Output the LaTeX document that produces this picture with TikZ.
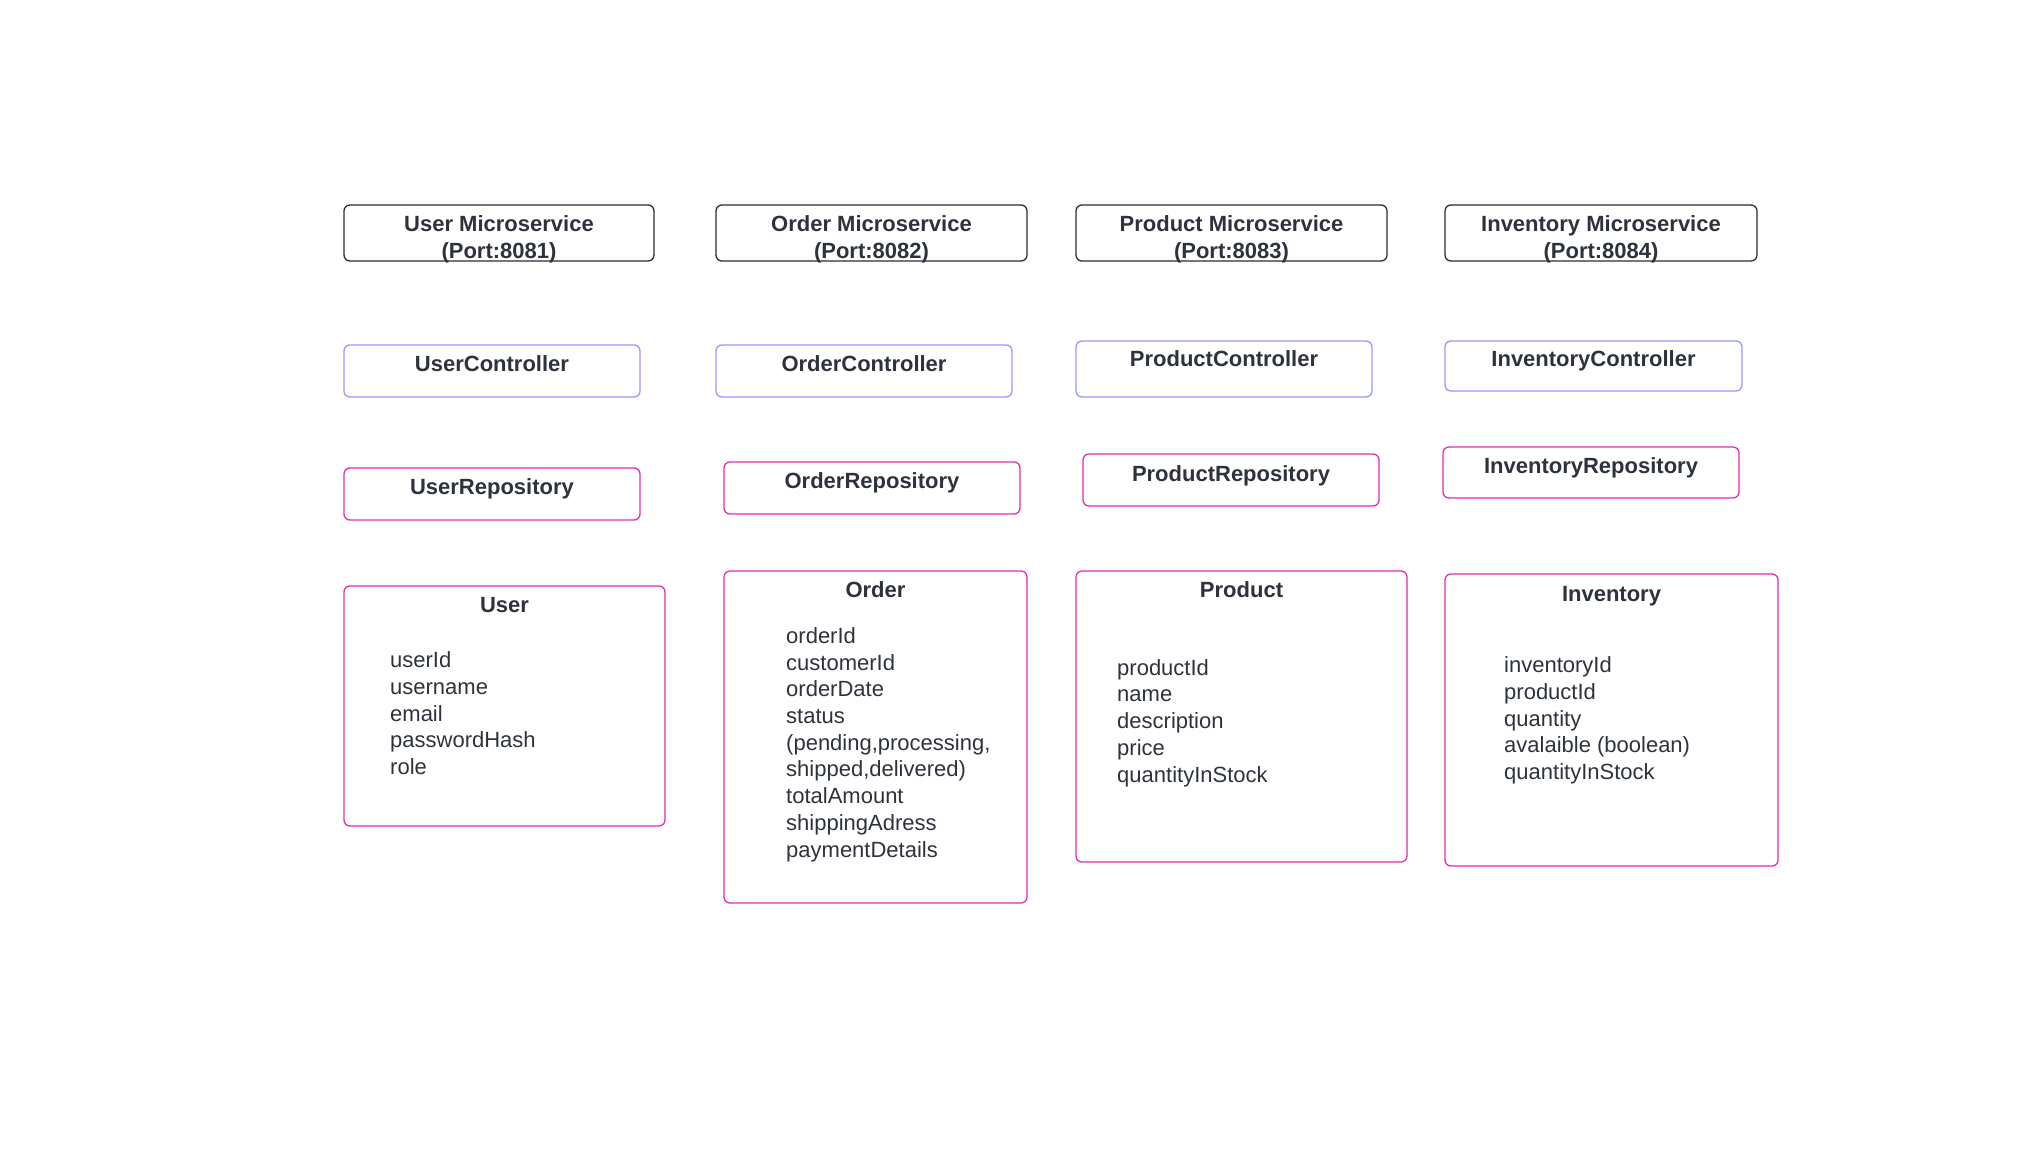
\documentclass[tikz,border=0pt]{standalone}
\usepackage{fontspec}
\setmainfont{Liberation Sans}
\definecolor{txt}{RGB}{45,50,60}
\definecolor{hdrc}{RGB}{45,45,50}
\definecolor{ctrlc}{RGB}{150,150,255}
\definecolor{repoc}{RGB}{228,45,178}
\begin{document}
\begin{tikzpicture}[x=1pt,y=-1pt,
  box/.style={draw, rounded corners=6pt, line width=1.3pt, inner sep=0pt, outer sep=0pt, anchor=north west, fill=none},
  hdrbox/.style={box, draw=hdrc},
  ctrlbox/.style={box, draw=ctrlc},
  repobox/.style={box, draw=repoc},
  ttl/.style={text=txt, font=\fontsize{22}{27}\selectfont\bfseries, inner sep=0pt, anchor=base, align=center},
  fld/.style={text=txt, font=\fontsize{22}{26.7}\selectfont, inner sep=0pt, anchor=base west, align=left}]
\useasboundingbox (0,0) rectangle (2020,1173);

% headers
\node[hdrbox, minimum width=310pt, minimum height=56pt] (uh) at (344,205) {};
\node[hdrbox, minimum width=311pt, minimum height=56pt] (oh) at (716,205) {};
\node[hdrbox, minimum width=311pt, minimum height=56pt] (ph) at (1076,205) {};
\node[hdrbox, minimum width=312pt, minimum height=56pt] (ih) at (1445,205) {};
\node[ttl] (uht) at (499,258) {User Microservice\\(Port:8081)};
\node[ttl] (oht) at (871.5,258) {Order Microservice\\(Port:8082)};
\node[ttl] (pht) at (1231.5,258) {Product Microservice\\(Port:8083)};
\node[ttl] (iht) at (1601,258) {Inventory Microservice\\(Port:8084)};

% controllers
\node[ctrlbox, minimum width=296pt, minimum height=52pt] (uc) at (344,345) {};
\node[ctrlbox, minimum width=296pt, minimum height=52pt] (oc) at (716,345) {};
\node[ctrlbox, minimum width=296pt, minimum height=56pt] (pc) at (1076,341) {};
\node[ctrlbox, minimum width=297pt, minimum height=50pt] (ic) at (1445,341) {};
\node[ttl] (uct) at (492,371) {UserController};
\node[ttl] (oct) at (864,371) {OrderController};
\node[ttl] (pct) at (1224,366) {ProductController};
\node[ttl] (ict) at (1593.5,366) {InventoryController};

% repositories
\node[repobox, minimum width=296pt, minimum height=52pt] (ur) at (344,468) {};
\node[repobox, minimum width=296pt, minimum height=52pt] (or) at (724,462) {};
\node[repobox, minimum width=296pt, minimum height=52pt] (pr) at (1083,454) {};
\node[repobox, minimum width=296pt, minimum height=51pt] (ir) at (1443,447) {};
\node[ttl] (urt) at (492,494) {UserRepository};
\node[ttl] (ort) at (872,488) {OrderRepository};
\node[ttl] (prt) at (1231,481) {ProductRepository};
\node[ttl] (irt) at (1591,473) {InventoryRepository};

% entities
\node[repobox, minimum width=321pt, minimum height=240pt] (ue) at (344,586) {};
\node[repobox, minimum width=303pt, minimum height=332pt] (oe) at (724,571) {};
\node[repobox, minimum width=331pt, minimum height=291pt] (pe) at (1076,571) {};
\node[repobox, minimum width=333pt, minimum height=292pt] (ie) at (1445,574) {};
\node[ttl] (uet) at (504.5,612) {User};
\node[ttl] (oet) at (875.5,597) {Order};
\node[ttl] (pet) at (1241.5,597) {Product};
\node[ttl] (iet) at (1611.5,601) {Inventory};

\node[fld] (uef) at (390,774.5) {userId\\username\\email\\passwordHash\\role};
\node[fld] (oef) at (786,857) {orderId\\customerId\\orderDate\\status\\(pending,processing,\\shipped,delivered)\\totalAmount\\shippingAdress\\paymentDetails};
\node[fld] (pef) at (1117,782) {productId\\name\\description\\price\\quantityInStock};
\node[fld] (ief) at (1504,779.5) {inventoryId\\productId\\quantity\\avalaible (boolean)\\quantityInStock};
\end{tikzpicture}
\end{document}
